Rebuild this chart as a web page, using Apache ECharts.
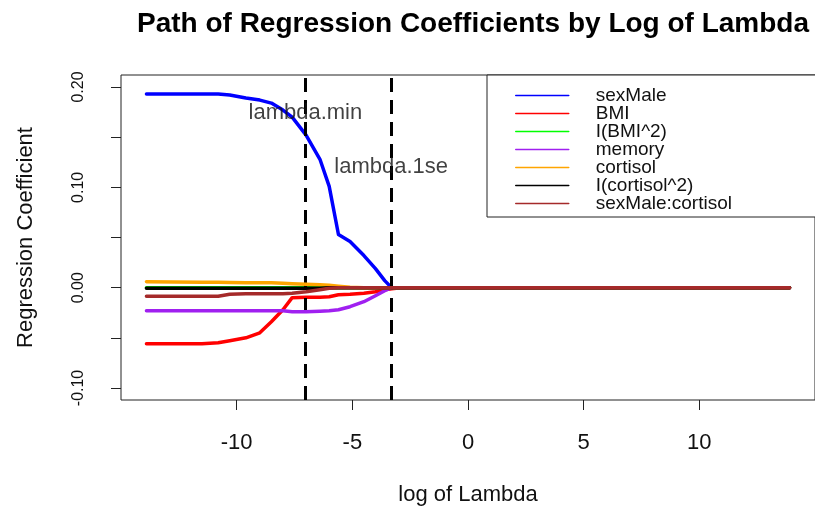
<!DOCTYPE html>
<html lang="en">
<head>
    <meta charset="UTF-8">
    <title>Path of Regression Coefficients</title>
    <script src="https://cdn.jsdelivr.net/npm/echarts@6/dist/echarts.min.js"></script>
    <style>
        html, body { margin: 0; padding: 0; background: #fff; }
        #chart { width: 815px; height: 517px; }
    </style>
</head>
<body>
    <div id="chart"></div>
    <script>
        // log(lambda) grid the coefficient paths were read at
        var logLambda = [-13.9, -11.5, -10.8, -10.3, -9.6, -9.0, -8.5, -8.0, -7.6, -7.0, -6.4, -6.0, -5.6, -5.1, -4.5, -4.0, -3.6, -3.3, -2.9, 13.9];

        var names = ['sexMale', 'BMI', 'I(BMI^2)', 'memory', 'cortisol', 'I(cortisol^2)', 'sexMale:cortisol'];
        var colors = ['#0000ff', '#ff0000', '#00ff00', '#a020f0', '#ffa500', '#000000', '#a52a2a'];

        var sexMale = [0.193, 0.193, 0.193, 0.192, 0.189, 0.187, 0.184, 0.177, 0.170, 0.152, 0.128, 0.101, 0.053, 0.046, 0.032, 0.019, 0.007, 0, 0, 0];
        var bmi = [-0.056, -0.056, -0.055, -0.053, -0.050, -0.045, -0.034, -0.022, -0.010, -0.0095, -0.0095, -0.009, -0.007, -0.0065, -0.0055, -0.004, -0.002, -0.001, 0, 0];
        var bmiSq = [0, 0, 0, 0, 0, 0, 0, 0, 0, 0, 0, 0, 0, 0, 0, 0, 0, 0, 0, 0];
        var memory = [-0.023, -0.023, -0.023, -0.023, -0.023, -0.023, -0.023, -0.023, -0.024, -0.024, -0.0235, -0.023, -0.022, -0.019, -0.014, -0.008, -0.003, 0, 0, 0];
        var cortisol = [0.006, 0.0055, 0.0055, 0.0052, 0.005, 0.005, 0.005, 0.0045, 0.004, 0.0035, 0.003, 0.0025, 0.0015, 0.0005, 0, 0, 0, 0, 0, 0];
        var cortisolSq = [-0.0005, -0.0005, -0.0005, -0.0005, -0.0005, -0.0005, -0.0005, -0.0005, -0.0005, -0.0005, -0.0005, 0, 0, 0, 0, 0, 0, 0, 0, 0];
        var sexCortisol = [-0.0085, -0.0085, -0.0085, -0.0065, -0.006, -0.006, -0.006, -0.006, -0.0055, -0.004, -0.002, -0.0005, 0, 0, 0, 0, 0, 0, 0, 0];
        var coefs = [sexMale, bmi, bmiSq, memory, cortisol, cortisolSq, sexCortisol];

        var lambdaMin = -7.03;
        var lambda1se = -3.32;

        var xTicks = [-10, -5, 0, 5, 10];
        var yTicks = [-0.1, -0.05, 0, 0.05, 0.1, 0.15, 0.2];
        var yLabels = [-0.1, 0, 0.1, 0.2];

        var font = 'Liberation Sans, Arial, sans-serif';
        var chart = echarts.init(document.getElementById('chart'));

        var series = names.map(function (n, i) {
            return {
                name: n,
                type: 'line',
                symbol: 'none',
                data: logLambda.map(function (x, j) { return [x, coefs[i][j]]; }),
                lineStyle: { color: colors[i], width: 3.5, cap: 'round', join: 'round' },
                itemStyle: { color: colors[i] },
                z: 2 + i
            };
        });

        // cross-validation cut-offs
        series[series.length - 1].markLine = {
            silent: true,
            symbol: 'none',
            label: { show: false },
            lineStyle: { color: '#000', width: 3, type: [14, 8] },
            data: [{ xAxis: lambdaMin }, { xAxis: lambda1se }]
        };

        series.push({
            type: 'scatter',
            symbolSize: 0,
            z: 20,
            label: {
                show: true,
                position: 'inside',
                formatter: '{b}',
                color: '#111',
                fontFamily: font,
                fontSize: 22
            },
            data: [
                { name: 'lambda.min', value: [lambdaMin, 0.174] },
                { name: 'lambda.1se', value: [lambda1se, 0.12] }
            ]
        });

        var option = {
            animation: false,
            backgroundColor: '#fff',
            title: {
                text: 'Path of Regression Coefficients by Log of Lambda',
                left: 468,
                top: 5,
                textAlign: 'center',
                textStyle: { fontFamily: font, fontSize: 28, fontWeight: 'bold', color: '#000' }
            },
            legend: {
                data: names,
                orient: 'vertical',
                left: 487,
                top: 75,
                padding: [11, 120, 4, 28],
                itemWidth: 53,
                itemHeight: 14,
                itemGap: -1,
                backgroundColor: '#fff',
                borderColor: '#222',
                borderWidth: 1,
                borderRadius: 0,
                selectedMode: false,
                itemStyle: { opacity: 0 },
                lineStyle: { width: 1.5 },
                textStyle: { fontFamily: font, fontSize: 19, color: '#111', padding: [0, 0, 0, 22] }
            },
            grid: {
                left: 121,
                top: 75,
                width: 703,
                height: 325,
                show: true,
                borderColor: '#222',
                borderWidth: 1,
                containLabel: false
            },
            xAxis: {
                type: 'value',
                min: -15,
                max: 15,
                interval: 5,
                name: 'log of Lambda',
                nameLocation: 'middle',
                nameGap: 84,
                nameTextStyle: { fontFamily: font, fontSize: 22, color: '#111' },
                axisLine: { show: false, onZero: false },
                splitLine: { show: false },
                axisTick: { show: true, length: 10, customValues: xTicks, lineStyle: { color: '#222' } },
                axisLabel: { customValues: xTicks, margin: 32, fontFamily: font, fontSize: 22, color: '#111' }
            },
            yAxis: {
                type: 'value',
                min: -0.112,
                max: 0.212,
                name: 'Regression Coefficient',
                nameLocation: 'middle',
                nameGap: 84,
                nameTextStyle: { fontFamily: font, fontSize: 22, color: '#111' },
                axisLine: { show: false, onZero: false },
                splitLine: { show: false },
                axisTick: { show: true, length: 10, customValues: yTicks, lineStyle: { color: '#222' } },
                axisLabel: {
                    customValues: yLabels,
                    rotate: 90,
                    margin: 34,
                    fontFamily: font,
                    fontSize: 16,
                    color: '#111',
                    formatter: function (v) { return v.toFixed(2); }
                }
            },
            series: series
        };

        chart.setOption(option);
    </script>
</body>
</html>
